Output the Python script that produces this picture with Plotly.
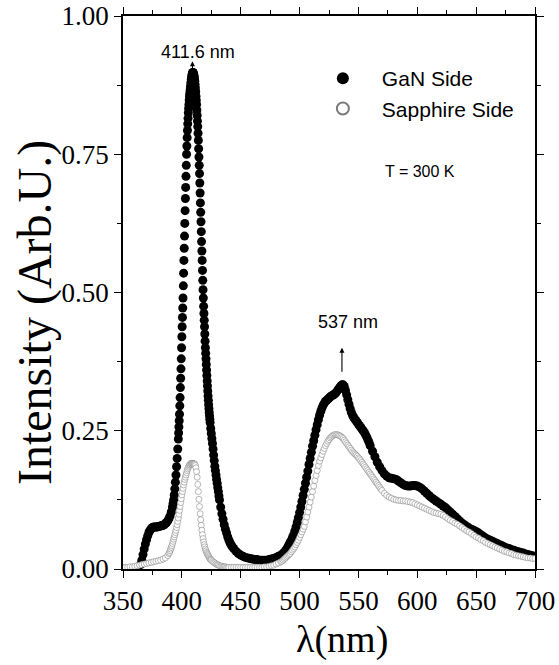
import numpy as np
import plotly.graph_objects as go

# ---------------- data ----------------
# GaN side : wavelength grid (nm) by segments, intensities typed below
gan_wavelength = np.concatenate([
    np.arange(365, 393, 1),        # 28
    np.arange(392.5, 397, 0.5),    # 9
    np.arange(397, 424.01, 0.25),  # 109
    np.arange(424.5, 432.01, 0.5), # 16
    np.arange(433, 445, 1),        # 12
    np.arange(446, 487, 2),        # 21
    np.arange(487, 561, 1),        # 74
    np.arange(562, 701, 2),        # 70
])
gan_intensity = [
    # 365-392
    .008, .016, .026, .036, .045, .053, .060, .066, .070, .073, .075, .076, .076, .076,
    .076, .077, .077, .078, .078, .079, .080, .082, .084, .087, .091, .096, .103, .112,
    # 392.5-396.5
    .118, .125, .134, .145, .157, .170, .185, .200, .217,
    # 397-424 (0.25)
    .235, .246, .257, .268, .280, .295, .310, .328, .345, .362, .380, .400, .420, .438, .455, .472,
    .490, .512, .535, .558, .580, .602, .625, .648, .670, .690, .710, .730, .750, .765, .780, .793,
    .805, .815, .825, .833, .840, .848, .855, .860, .865, .870, .875, .880, .885, .889, .892, .895,
    .897, .898, .898, .897, .895, .893, .890, .886, .882, .876, .870, .863, .855, .848, .840, .830,
    .820, .810, .800, .788, .775, .760, .745, .730, .715, .698, .680, .662, .645, .628, .610, .592,
    .575, .558, .540, .522, .505, .490, .475, .462, .450, .438, .425, .412, .400, .390, .380, .370,
    .360, .350, .340, .331, .322, .313, .305, .297, .290, .283, .277, .271,
    .265,
    # 424.5-432
    .254, .245, .236, .227, .217, .206, .196, .186, .178, .170, .162, .155, .147, .140, .132, .125,
    # 433-444
    .112, .100, .090, .080, .072, .065, .058, .052, .047, .043, .040, .037,
    # 446-486
    .032, .028, .025, .023, .021, .020, .019, .018, .017, .017, .016, .016, .016, .016, .017,
    .018, .019, .021, .023, .025, .028,
    # 487-560
    .030, .033, .036, .040, .044, .048, .052, .057, .062, .069, .076, .084, .093, .102, .112,
    .122, .133, .144, .155, .166, .177, .189, .200, .211, .222, .232, .242, .252, .261, .270,
    .278, .285, .291, .296, .300, .303, .305, .307, .309, .311, .313, .314, .315, .317, .319,
    .322, .325, .328, .331, .333, .333, .330, .323,
    .315, .306, .298, .290, .283, .278, .274, .271, .268, .265, .262, .259, .256, .253, .250,
    .247, .243, .239, .234, .229, .223,
    # 562-700
    .213, .203, .193, .185, .178, .172, .168, .165, .164, .163, .162, .159, .156, .153, .151,
    .150, .150, .151, .151, .150,
    .148, .145, .141, .137, .133, .129, .126, .123, .120, .117, .114, .111, .107, .103, .099,
    .095, .091, .087, .083, .080,
    .077, .074, .072, .070, .068, .065, .062, .059, .056, .054, .052, .050, .048, .046, .044,
    .042, .040, .038, .037, .035,
    .034, .032, .031, .030, .029, .027, .026, .025, .024, .023,
]

# Sapphire side
sapphire_wavelength = np.concatenate([
    np.arange(350, 389, 2),        # 20
    np.arange(389, 425.01, 0.5),   # 73
    np.arange(426, 441, 1),        # 15
    np.arange(442, 485, 2),        # 22
    np.arange(485, 571, 1),        # 86
    np.arange(572, 701, 2),        # 65
])
sapphire_intensity = [
    # 350-388
    .003, .003, .003, .004, .004, .005, .006, .007, .008, .009, .010, .011, .012, .013, .014,
    .015, .016, .018, .020, .024,
    # 389-425 (0.5)
    .028, .030, .033, .036, .039, .042, .046, .050, .054, .058, .062, .066,
    .070, .075, .080, .086, .092, .099, .106, .113, .120, .127, .134, .140,
    .146, .152, .157, .162, .166, .170, .174, .178, .181, .184, .186, .188,
    .189, .190, .191, .191, .191, .191, .190, .190, .189, .187, .183, .176,
    .166, .153, .140, .126, .113, .100, .089, .079, .070, .062, .055, .049,
    .044, .040, .036, .033, .030, .028, .026, .024, .022, .020, .018, .017, .016,
    # 426-440
    .014, .012, .011, .009, .008, .007, .006, .005, .005, .004, .004, .004, .003, .003, .003,
    # 442-484
    .003, .003, .003, .003, .003, .003, .003, .003, .003, .003, .003, .003, .003, .003,
    .004, .004, .005, .006, .007, .009, .011, .013,
    # 485-570
    .014, .016, .018, .020, .022, .024, .026, .028, .031, .034, .037, .040, .044, .048, .052,
    .057, .062, .067, .072, .077, .085, .094, .103, .112, .121, .130, .140, .150, .160, .169,
    .178, .187, .195, .201, .207, .213, .218, .223, .227, .231, .234, .237, .239, .241, .242,
    .243, .243, .243, .242, .241, .240, .238, .236, .233, .230, .227, .224, .221, .218, .215,
    .212,
    .210, .208, .206, .204, .201, .199, .196, .193, .190, .187, .184, .181, .178, .175, .172,
    .169, .166, .163, .160, .157, .154, .151, .148, .145, .142,
    # 572-700
    .137, .133, .130, .128, .126, .125, .124, .124, .123, .123, .122, .121, .120, .118, .116,
    .114, .112, .110, .108, .106, .104, .102, .101,
    .100, .099, .097, .094, .091, .088, .086, .083, .081, .078, .075, .072, .069, .067, .064,
    .061, .058, .056, .053, .051, .048, .046, .044, .042, .040, .038, .036, .034, .032, .031,
    .029, .028, .026, .025, .024, .023, .022, .021, .020, .020, .019, .019,
]

assert len(gan_wavelength) == len(gan_intensity), (len(gan_wavelength), len(gan_intensity))
assert len(sapphire_wavelength) == len(sapphire_intensity), (len(sapphire_wavelength), len(sapphire_intensity))

x_ticks = [350, 400, 450, 500, 550, 600, 650, 700]
y_ticks = [0.00, 0.25, 0.50, 0.75, 1.00]
peak_labels = [("411.6 nm", 409.0, 0.897, 0.918, 413.5, 0.935),
               ("537 nm", 536.0, 0.354, 0.400, 541.0, 0.447)]

# ---------------- figure ----------------
SERIF = "Liberation Serif, Times New Roman, serif"
SANS = "Liberation Sans, Arial, sans-serif"

fig = go.Figure()
fig.add_trace(go.Scatter(
    x=gan_wavelength, y=gan_intensity, mode="markers", name="GaN Side",
    marker=dict(symbol="circle", size=9, color="black", line=dict(width=0)),
))
fig.add_trace(go.Scatter(
    x=sapphire_wavelength, y=sapphire_intensity, mode="markers", name="Sapphire Side",
    marker=dict(symbol="circle", size=6, color="white", line=dict(width=0.55, color="#7a7a7a")),
))

axis_common = dict(showline=True, linecolor="black", linewidth=1.6, showgrid=False,
                   zeroline=False, ticklen=7, tickwidth=1.4, tickcolor="black",
                   mirror="ticks", ticks="outside", ticklabeloverflow="allow",
                   automargin=False)

fig.update_layout(
    width=559, height=665,
    margin=dict(l=123, r=24, t=16, b=96, autoexpand=False),
    plot_bgcolor="white", paper_bgcolor="white",
    showlegend=True,
    legend=dict(x=0.439, y=0.924, xanchor="left", yanchor="top",
                font=dict(family=SANS, size=21, color="black"),
                bgcolor="rgba(0,0,0,0)", itemwidth=68, itemsizing="constant",
                tracegroupgap=0),
    xaxis=dict(range=[350, 700], tickvals=x_ticks,
               tickfont=dict(family=SERIF, size=27, color="black"),
               minor=dict(dtick=25, tick0=350, ticks="outside", ticklen=4,
                          tickwidth=1.2, tickcolor="black"),
               **axis_common),
    yaxis=dict(range=[0, 1], tickvals=y_ticks, tickformat=".2f",
               tickfont=dict(family=SERIF, size=27, color="black"),
               minor=dict(dtick=0.125, tick0=0, ticks="outside", ticklen=4,
                          tickwidth=1.2, tickcolor="black"),
               **axis_common),
)

annotations = [
    dict(text="Intensity (Arb.U.)", xref="paper", yref="paper", x=-0.2136, y=0.4647,
         textangle=-90, showarrow=False, xanchor="center", yanchor="middle",
         font=dict(family=SERIF, size=48, color="black")),
    dict(text="λ(nm)", xref="paper", yref="paper", x=0.5316, y=-0.128,
         showarrow=False, xanchor="center", yanchor="middle",
         font=dict(family=SERIF, size=38, color="black")),
    dict(text="T = 300 K", xref="paper", yref="paper", x=0.631, y=0.718,
         showarrow=False, xanchor="left", yanchor="middle",
         font=dict(family=SANS, size=16, color="black")),
]
for label, ax_x, tail_y, head_y, tx, ty in peak_labels:
    annotations.append(dict(text="", x=ax_x, y=head_y, ax=ax_x, ay=tail_y,
                            xref="x", yref="y", axref="x", ayref="y", showarrow=True,
                            arrowhead=2, arrowsize=0.9, arrowwidth=1.1, arrowcolor="black"))
    annotations.append(dict(text=label, x=tx, y=ty, xref="x", yref="y", showarrow=False,
                            xanchor="center", yanchor="middle",
                            font=dict(family=SANS, size=18, color="black")))
fig.update_layout(annotations=annotations)

fig.write_html("out.html", config={"displayModeBar": False},
               post_script="document.body.style.margin='0';")
